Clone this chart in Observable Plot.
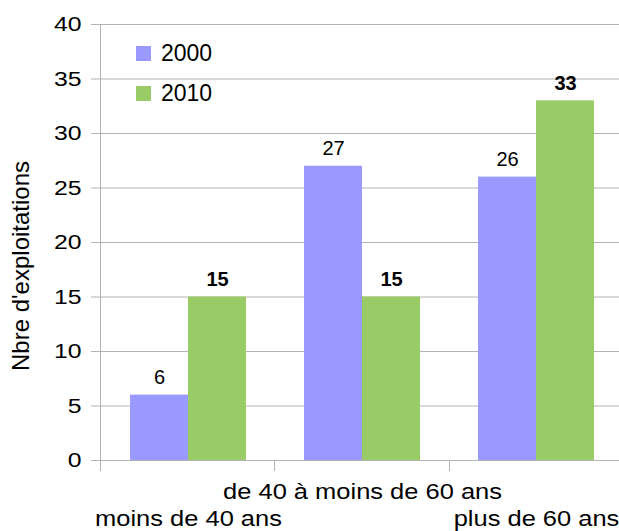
<!DOCTYPE html>
<html><head><meta charset="utf-8">
<script src="https://cdn.jsdelivr.net/npm/d3@7"></script>
<script src="https://cdn.jsdelivr.net/npm/@observablehq/plot@0.6"></script>
<style>
html,body{margin:0;padding:0;background:#fff;overflow:hidden}
#wrap{position:relative;width:619px;height:531px}
.legend{position:absolute;left:136px;top:34px;font-family:"Liberation Sans",Arial,sans-serif;font-size:23px;color:#000;line-height:1}
.legend .row{display:flex;align-items:center;height:39.5px}
.legend .sw{width:15px;height:15px;margin-right:10px}
</style></head><body><div id="wrap"></div>
<script>
const categories = ["moins de 40 ans", "de 40 à moins de 60 ans", "plus de 60 ans"];
const years = ["2000", "2010"];
const values2000 = [6, 27, 26];
const values2010 = [15, 15, 33];
const yTicks = [0, 5, 10, 15, 20, 25, 30, 35, 40];
const yLabel = "Nbre d'exploitations";
const colors = ["#9999ff", "#99cc66"];

const FONT = '"Liberation Sans", Arial, sans-serif';
const GRID = "#b3b3b3";

const rows = categories.flatMap((c, i) => [
  {cat: c, year: years[0], value: values2000[i]},
  {cat: c, year: years[1], value: values2010[i]}
]);

const chart = Plot.plot({
  width: 619, height: 531,
  marginLeft: 100, marginRight: -4, marginTop: 24, marginBottom: 71,
  style: {fontFamily: FONT, fontSize: "21px", background: "white", color: "black"},
  fx: {domain: categories, padding: 0},
  x: {domain: years, paddingInner: 0, paddingOuter: 0.5, axis: null},
  y: {domain: [0, 40]},
  color: {domain: years, range: colors},
  marks: [
    Plot.ruleY(yTicks, {stroke: GRID, strokeWidth: 1}),
    Plot.axisY({ticks: yTicks, tickSize: 10, tickPadding: 10, stroke: GRID, fill: "black", fontSize: 21, label: null}),
    Plot.barY(rows, {fx: "cat", x: "year", y: "value", fill: "year"}),
    Plot.text(rows.filter(d => d.year === years[0]), {fx: "cat", x: "year", y: "value", text: d => String(d.value), dy: -11, lineAnchor: "bottom", fontSize: 20, fill: "black"}),
    Plot.text(rows.filter(d => d.year === years[1]), {fx: "cat", x: "year", y: "value", text: d => String(d.value), dy: -11, lineAnchor: "bottom", fontSize: 20, fontWeight: "bold", fill: "black"}),
    Plot.text([yLabel], {fx: () => categories[0], text: d => d, frameAnchor: "left", rotate: -90, dx: -73, dy: 23.5, lineAnchor: "bottom", textAnchor: "middle", fontSize: 24, fill: "black"}),
    Plot.axisFx({anchor: "bottom", ticks: [categories[1]], tickSize: 0, tickPadding: 23, fontSize: 21.4, fill: "black", label: null}),
    Plot.axisFx({anchor: "bottom", ticks: [categories[0], categories[2]], tickSize: 0, tickPadding: 50, fontSize: 21.4, fill: "black", label: null})
  ]
});

document.getElementById("wrap").appendChild(chart);

// horizontal stretch of axis texts, as in the reference rendering
function stretch(el, sx, sy) {
  const t = el.getAttribute("transform") || "";
  const x = +el.getAttribute("x") || 0, y = +el.getAttribute("y") || 0;
  el.setAttribute("transform", `${t} translate(${x},${y}) scale(${sx},${sy}) translate(${-x},${-y})`);
}
chart.querySelectorAll('g[aria-label="y-axis tick label"] text').forEach(el => stretch(el, 1.18, 1));
chart.querySelectorAll('g[aria-label="fx-axis tick label"] text').forEach(el => stretch(el, 1.19, 1));

// axis line and category boundary ticks, from the plot's own scales
const fxs = chart.scale("fx"), ys = chart.scale("y");
const band = d3.scaleBand().domain(fxs.domain).range(fxs.range)
  .paddingInner(fxs.paddingInner ?? 0).paddingOuter(fxs.paddingOuter ?? 0).align(fxs.align ?? 0.5);
const yl = d3.scaleLinear().domain(ys.domain).range(ys.range);
const g = d3.select(chart).append("g").attr("stroke", GRID).attr("stroke-width", 1);
const y0 = yl(0), yTop = yl(d3.max(yTicks)), tick = 11;
categories.forEach((c, i) => {
  const xb = Math.round(band(c)) + 0.5;
  g.append("line").attr("x1", xb).attr("x2", xb)
    .attr("y1", i === 0 ? yTop : y0).attr("y2", y0 + tick);
});

// legend
const legend = d3.select("#wrap").append("div").attr("class", "legend");
years.forEach((yr, i) => {
  const r = legend.append("div").attr("class", "row");
  r.append("div").attr("class", "sw").style("background", colors[i]);
  r.append("span").text(yr);
});
</script></body></html>
